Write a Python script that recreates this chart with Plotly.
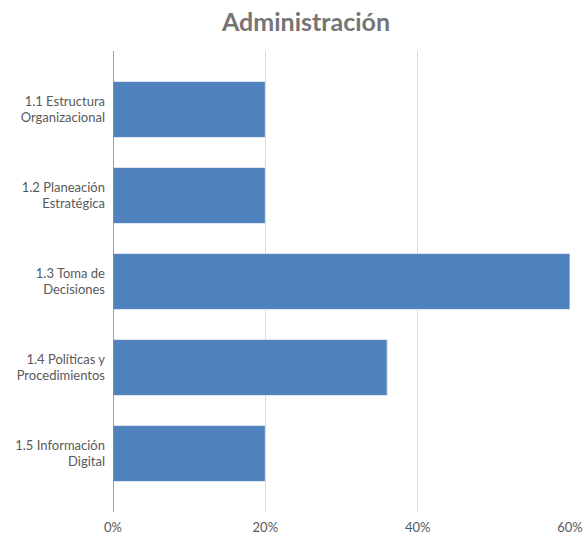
import plotly.graph_objects as go

# Survey areas and share of responses per area
categories = [
    "1.1 Estructura<br>Organizacional",
    "1.2 Planeación<br>Estratégica",
    "1.3 Toma de<br>Decisiones",
    "1.4 Políticas y<br>Procedimientos",
    "1.5 Información<br>Digital",
]
values = [0.20, 0.20, 0.60, 0.36, 0.20]
tick_values = [0, 0.2, 0.4, 0.6]
tick_labels = ["0%", "20%", "40%", "60%"]

FONT = "Lato"

fig = go.Figure(
    go.Bar(
        x=values,
        y=categories,
        orientation="h",
        width=0.65,
        marker=dict(color="#4f81bd", line=dict(color="#dce6f2", width=1)),
        hoverinfo="x+y",
    )
)

fig.update_layout(
    width=585,
    height=536,
    margin=dict(l=113, r=15, t=51, b=24),
    paper_bgcolor="white",
    plot_bgcolor="white",
    showlegend=False,
    font=dict(family=FONT, size=13, color="#595959"),
    title=dict(
        text="<b>Administración</b>",
        x=306 / 585,
        xanchor="center",
        xref="container",
        y=1 - 22 / 536,
        yanchor="middle",
        font=dict(family=FONT, size=25, color="#757575"),
    ),
    xaxis=dict(
        range=[0, 0.6],
        tickvals=tick_values,
        ticktext=tick_labels,
        showgrid=True,
        gridcolor="#d9d9d9",
        gridwidth=1,
        zeroline=False,
        showline=False,
        ticks="",
        automargin=False,
        ticklabelstandoff=6,
        tickfont=dict(family=FONT, size=13, color="#595959"),
        fixedrange=True,
    ),
    yaxis=dict(
        range=[4.68, -0.68],
        showgrid=False,
        zeroline=False,
        showline=False,
        ticks="",
        automargin=False,
        ticklabelstandoff=7,
        tickfont=dict(family=FONT, size=13, color="#595959"),
        fixedrange=True,
    ),
    shapes=[
        dict(
            type="line",
            xref="x",
            yref="paper",
            x0=0,
            x1=0,
            y0=0,
            y1=1,
            line=dict(color="#7f7f7f", width=1.5),
        )
    ],
)

fig.write_html("out.html")
